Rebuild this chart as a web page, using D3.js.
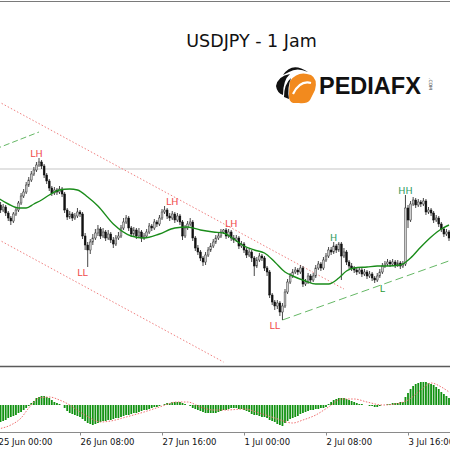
<!DOCTYPE html>
<html><head><meta charset="utf-8">
<script src="https://cdn.jsdelivr.net/npm/d3@7"></script>
<style>html,body{margin:0;padding:0;background:#fff;}svg{display:block}</style>
</head><body><svg id="c" width="450" height="450"></svg>
<script>
// ---------- DATA ----------
const title = "USDJPY - 1 Jam";
const tickIdx = [0, 32, 64, 96, 128, 160];
const tickLabels = ["25 Jun 00:00", "26 Jun 08:00", "27 Jun 16:00", "1 Jul 00:00", "2 Jul 08:00", "3 Jul 16:00"];
const firstOpen = 107.98;
const close = [107.95,107.90,107.93,107.87,107.82,107.79,107.86,107.90,107.97,108.04,
108.08,108.15,108.20,108.26,108.30,108.35,108.38,108.34,108.25,108.19,
108.12,108.07,108.10,108.08,108.11,108.06,107.90,107.83,107.86,107.82,
107.84,107.88,107.86,107.64,107.55,107.50,107.58,107.62,107.67,107.71,
107.64,107.68,107.62,107.66,107.60,107.56,107.62,107.64,107.72,107.78,
107.82,107.72,107.66,107.70,107.64,107.68,107.62,107.64,107.68,107.74,
107.72,107.78,107.76,107.82,107.88,107.90,107.84,107.82,107.86,107.80,
107.84,107.78,107.64,107.72,107.76,107.78,107.62,107.52,107.48,107.42,
107.38,107.45,107.50,107.54,107.58,107.62,107.64,107.68,107.70,107.64,
107.68,107.62,107.60,107.62,107.54,107.56,107.50,107.45,107.48,107.42,
107.34,107.40,107.44,107.42,107.32,107.28,107.05,106.98,106.94,106.97,
106.88,106.94,107.08,107.18,107.24,107.28,107.30,107.28,107.32,107.16,
107.18,107.24,107.20,107.24,107.32,107.36,107.32,107.40,107.44,107.50,
107.48,107.54,107.50,107.56,107.44,107.48,107.38,107.34,107.32,107.30,
107.28,107.30,107.26,107.28,107.24,107.26,107.22,107.20,107.24,107.28,
107.34,107.36,107.38,107.36,107.38,107.35,107.37,107.34,107.36,107.92,
107.80,107.96,108.00,107.95,107.98,107.96,107.99,107.88,107.90,107.87,
107.80,107.82,107.76,107.71,107.66,107.68,107.62];
const high = [108.01,107.98,107.96,107.95,107.89,107.84,107.88,107.93,107.99,108.07,
108.11,108.18,108.23,108.29,108.33,108.38,108.42,108.40,108.36,108.27,
108.21,108.14,108.13,108.12,108.14,108.13,108.08,107.92,107.89,107.88,
107.87,107.92,107.90,107.88,107.67,107.58,107.61,107.66,107.71,107.75,
107.73,107.72,107.70,107.70,107.68,107.63,107.65,107.68,107.75,107.82,
107.85,107.84,107.74,107.73,107.72,107.72,107.70,107.67,107.71,107.77,
107.76,107.81,107.80,107.85,107.91,107.94,107.92,107.87,107.89,107.88,
107.87,107.86,107.80,107.75,107.79,107.82,107.80,107.64,107.55,107.50,
107.44,107.48,107.53,107.57,107.61,107.65,107.67,107.71,107.71,107.72,
107.71,107.70,107.65,107.65,107.64,107.59,107.58,107.52,107.51,107.50,
107.44,107.43,107.47,107.46,107.44,107.34,107.30,107.07,107.00,107.00,
106.99,106.97,107.11,107.21,107.27,107.31,107.33,107.32,107.35,107.34,
107.21,107.27,107.26,107.27,107.35,107.39,107.38,107.43,107.47,107.53,
107.53,107.58,107.56,107.58,107.58,107.52,107.50,107.40,107.37,107.34,
107.32,107.33,107.32,107.31,107.30,107.29,107.28,107.24,107.27,107.31,
107.37,107.39,107.41,107.40,107.41,107.40,107.40,107.39,107.39,108.05,
107.95,107.99,108.03,108.02,108.01,108.00,108.02,108.01,107.93,107.92,
107.89,107.85,107.84,107.78,107.73,107.71,107.70];
const low = [107.92,107.87,107.88,107.84,107.79,107.75,107.77,107.84,107.88,107.95,
108.02,108.06,108.13,108.18,108.24,108.28,108.33,108.31,108.22,108.16,
108.09,108.04,108.05,108.05,108.06,108.03,107.87,107.80,107.81,107.79,
107.80,107.82,107.83,107.61,107.50,107.33,107.46,107.55,107.60,107.64,
107.61,107.62,107.59,107.60,107.57,107.52,107.54,107.60,107.62,107.70,
107.76,107.69,107.63,107.64,107.61,107.62,107.58,107.60,107.62,107.66,
107.69,107.70,107.73,107.74,107.80,107.86,107.81,107.79,107.80,107.77,
107.78,107.75,107.60,107.62,107.70,107.74,107.59,107.49,107.45,107.39,
107.34,107.35,107.43,107.48,107.52,107.56,107.60,107.62,107.66,107.61,
107.62,107.59,107.57,107.58,107.51,107.52,107.47,107.42,107.43,107.38,
107.24,107.32,107.38,107.39,107.29,107.24,107.02,106.95,106.90,106.91,
106.84,106.80,106.92,107.06,107.16,107.22,107.26,107.25,107.26,107.13,
107.14,107.16,107.17,107.18,107.22,107.30,107.29,107.30,107.38,107.42,
107.45,107.46,107.47,107.48,107.20,107.42,107.35,107.31,107.29,107.27,
107.25,107.26,107.23,107.24,107.21,107.22,107.19,107.17,107.18,107.22,
107.26,107.32,107.34,107.33,107.34,107.32,107.33,107.31,107.32,107.34,
107.72,107.78,107.94,107.92,107.93,107.93,107.94,107.85,107.86,107.84,
107.77,107.78,107.73,107.68,107.63,107.64,107.59];
// moving average read at sample bars
const maIdx = [0,4,8,11,14,17,20,24,28,31,35,39,45,52,57,63,69,74,79,84,88,92,96,100,104,108,112,115,120,124,129,133,136,139,144,148,152,157,161,165,169,173,176];
const maVal = [108.02,107.96,107.92,107.92,107.96,108.00,108.05,108.10,108.11,108.10,108.03,107.94,107.76,107.64,107.62,107.66,107.72,107.73,107.70,107.68,107.67,107.61,107.54,107.50,107.47,107.38,107.28,107.24,107.19,107.16,107.16,107.22,107.29,107.32,107.33,107.34,107.34,107.35,107.42,107.53,107.63,107.71,107.75];
// MACD histogram per bar
const macdHist = [-0.18,-0.17,-0.16,-0.15,-0.13,-0.12,-0.11,-0.10,-0.08,-0.07,
-0.05,-0.03,-0.01,0.02,0.04,0.07,0.08,0.09,0.09,0.08,
0.07,0.05,0.03,0.02,0.01,0.00,-0.03,-0.06,-0.08,-0.09,
-0.10,-0.11,-0.12,-0.14,-0.16,-0.18,-0.19,-0.20,-0.19,-0.18,
-0.17,-0.16,-0.16,-0.15,-0.15,-0.14,-0.13,-0.13,-0.12,-0.11,
-0.10,-0.10,-0.09,-0.08,-0.08,-0.07,-0.06,-0.05,-0.05,-0.04,
-0.03,-0.02,-0.02,-0.01,0.00,0.01,0.02,0.02,0.03,0.03,
0.03,0.03,0.02,0.01,0.00,-0.01,-0.03,-0.04,-0.05,-0.06,
-0.07,-0.08,-0.08,-0.08,-0.08,-0.08,-0.07,-0.06,-0.05,-0.05,
-0.04,-0.03,-0.03,-0.03,-0.04,-0.04,-0.05,-0.06,-0.07,-0.09,
-0.10,-0.10,-0.11,-0.12,-0.12,-0.13,-0.15,-0.16,-0.17,-0.19,
-0.20,-0.21,-0.18,-0.16,-0.14,-0.13,-0.12,-0.11,-0.09,-0.08,
-0.07,-0.06,-0.05,-0.05,-0.04,-0.04,-0.03,-0.03,-0.02,0.01,
0.03,0.05,0.06,0.07,0.07,0.07,0.06,0.05,0.04,0.03,
0.02,0.01,0.01,0.00,0.00,-0.01,-0.01,-0.02,-0.02,-0.01,
0.00,0.00,0.01,0.01,0.02,0.02,0.02,0.03,0.03,0.08,
0.12,0.16,0.19,0.21,0.22,0.23,0.23,0.23,0.22,0.21,
0.20,0.18,0.16,0.13,0.11,0.09,0.07];
// MACD signal line read at sample bars
const sigIdx = [0,5,9,12,16,20,24,28,32,36,40,44,50,57,63,70,74,79,84,89,96,102,108,115,119,124,129,134,139,144,150,155,160,165,169,173,176];
const sigVal = [-0.24,-0.20,-0.13,-0.03,0.07,0.08,0.05,0.00,-0.07,-0.13,-0.17,-0.16,-0.12,-0.07,-0.02,0.03,0.03,-0.02,-0.05,-0.05,-0.04,-0.08,-0.13,-0.18,-0.15,-0.10,-0.02,0.06,0.06,0.03,0.00,0.01,0.05,0.15,0.22,0.18,0.13];
// trend lines: [barIndex, price] end points
const channelUpper = [[-1, 109.00], [135, 107.11]];
const channelLower = [[-1, 107.62], [88, 106.38]];
const supportUpper = [[-1, 108.51], [16, 108.68]];
const supportLower = [[111, 106.80], [177, 107.40]];
const levelLine = 108.31;
// swing labels
const swingText = ["LH", "LL", "LH", "LH", "LL", "H", "L", "HH"];
const swingBar  = [15, 33, 68, 91, 108, 131, 150, 159];
const swingSide = ["top", "bottom", "top", "top", "bottom", "top", "bottom", "top"];

// ---------- DRAW ----------
const W = 450, H = 450;
const mainTop = 0, mainBottom = 366, subTop = 367, subBottom = 432;
const svg = d3.select("#c");
const x = d3.scaleLinear().domain([0, 176]).range([-2, -2 + 176 * 2.5625]);
const y = d3.scaleLinear().domain([106.34, 110.00]).range([mainBottom, 0]);
const ym = d3.scaleLinear().domain([-0.27, 0.39]).range([subBottom, subTop - 1]);

const defs = svg.append("defs");
defs.append("clipPath").attr("id", "mainClip").append("rect").attr("x", 0).attr("y", 0).attr("width", W).attr("height", mainBottom);
defs.append("clipPath").attr("id", "subClip").append("rect").attr("x", 0).attr("y", subTop).attr("width", W).attr("height", subBottom - subTop);

svg.append("rect").attr("width", W).attr("height", H).attr("fill", "#fff");

// top border
svg.append("line").attr("x1", 0).attr("x2", W).attr("y1", 1.5).attr("y2", 1.5).attr("stroke", "#7a7a7a").attr("stroke-width", 1.2);

// title
svg.append("text").attr("x", 251.5).attr("y", 47).attr("text-anchor", "middle")
  .attr("font-family", "DejaVu Sans, sans-serif").attr("font-size", 17.5).attr("fill", "#111").text(title);

// logo
const logo = svg.append("g");
logo.append("path").attr("d", "M290,81 Q298,70 311,75 Q318,79 315,90 L310,100 Q307,104 299,103 L293,103 Q288,101 289,93 Z").attr("fill", "#f28a1e");
logo.append("path").attr("d", "M283,75 Q292,61 308,72 Q297,67 289,72 Z").attr("fill", "#111");
logo.append("path").attr("d", "M276,86 Q278,76 290,74 Q283,80 283,95 Q277,93 276,86 Z").attr("fill", "#111");
logo.append("path").attr("d", "M284,97 Q284,84 291,78 Q287,88 289,99 Z").attr("fill", "#111");
logo.append("path").attr("d", "M293,94 Q300,80 311,83").attr("fill", "none").attr("stroke", "#fff").attr("stroke-width", 2.2);
logo.append("text").attr("x", 319).attr("y", 94).attr("font-family", "Liberation Sans, Arial, sans-serif")
  .attr("font-weight", "bold").attr("font-size", 23.5).attr("fill", "#111").text("PEDIAFX");
logo.append("text").attr("transform", "translate(429,78) rotate(90)").attr("font-family", "DejaVu Sans, sans-serif")
  .attr("font-size", 4.5).attr("fill", "#333").text(".COM");

// main panel
const main = svg.append("g").attr("clip-path", "url(#mainClip)");
main.append("line").attr("x1", 0).attr("x2", W).attr("y1", y(levelLine)).attr("y2", y(levelLine))
  .attr("stroke", "#d9d9d9").attr("stroke-width", 1.5);

const lineGen = d3.line().x(d => x(d[0])).y(d => y(d[1]));
main.append("path").attr("d", lineGen(channelUpper)).attr("fill", "none").attr("stroke", "#f08080").attr("stroke-width", 1).attr("stroke-dasharray", "1.5,2");
main.append("path").attr("d", lineGen(channelLower)).attr("fill", "none").attr("stroke", "#f08080").attr("stroke-width", 1).attr("stroke-dasharray", "1.5,2");
main.append("path").attr("d", lineGen(supportUpper)).attr("fill", "none").attr("stroke", "#66b866").attr("stroke-width", 1).attr("stroke-dasharray", "6,3");
main.append("path").attr("d", lineGen(supportLower)).attr("fill", "none").attr("stroke", "#66b866").attr("stroke-width", 1).attr("stroke-dasharray", "8,4");

const bars = close.map((c, i) => ({ i, o: i ? close[i - 1] : firstOpen, h: high[i], l: low[i], c }));
const bw = 1.8;
main.selectAll("line.wick").data(bars).join("line").attr("class", "wick")
  .attr("x1", d => x(d.i)).attr("x2", d => x(d.i)).attr("y1", d => y(d.h)).attr("y2", d => y(d.l))
  .attr("stroke", "#333").attr("stroke-width", 0.9);
main.selectAll("rect.body").data(bars).join("rect").attr("class", "body")
  .attr("x", d => x(d.i) - bw / 2).attr("width", bw)
  .attr("y", d => y(Math.max(d.o, d.c)))
  .attr("height", d => Math.max(1, Math.abs(y(d.o) - y(d.c))))
  .attr("fill", d => d.c >= d.o ? "#cfcfcf" : "#111")
  .attr("stroke", d => d.c >= d.o ? "#3a3a3a" : "#111").attr("stroke-width", 0.5);

const maPts = maIdx.map((d, k) => [d, maVal[k]]);
main.append("path").attr("d", d3.line().curve(d3.curveMonotoneX).x(d => x(d[0])).y(d => y(d[1]))(maPts))
  .attr("fill", "none").attr("stroke", "#1a8c1a").attr("stroke-width", 1.4);

// swing labels
swingText.forEach((t, k) => {
  const b = swingBar[k];
  const lo = Math.max(0, b - 3), hi = Math.min(close.length - 1, b + 3);
  let yy;
  if (swingSide[k] === "top") yy = y(d3.max(high.slice(lo, hi + 1))) - 1;
  else yy = y(d3.min(low.slice(lo, hi + 1))) + 9;
  const red = (t === "LH" || t === "LL");
  main.append("text").attr("x", x(b)).attr("y", yy).attr("text-anchor", "middle")
    .attr("font-family", "DejaVu Sans, sans-serif").attr("font-size", 9.5)
    .attr("fill", red ? "#f04a4a" : (t === "L" ? "#2a9a3a" : "#2e9a5e")).text(t);
});

// separator
svg.append("line").attr("x1", 0).attr("x2", W).attr("y1", 366.5).attr("y2", 366.5).attr("stroke", "#5a5a5a").attr("stroke-width", 1.5);

// MACD sub panel
const sub = svg.append("g").attr("clip-path", "url(#subClip)");
sub.selectAll("rect.h").data(macdHist).join("rect").attr("class", "h")
  .attr("x", (d, i) => x(i) - 0.9).attr("width", 1.8)
  .attr("y", d => Math.min(ym(d), ym(0))).attr("height", d => Math.abs(ym(d) - ym(0)))
  .attr("fill", "#129212");
const sigPts = sigIdx.map((d, k) => [d, sigVal[k]]);
sub.append("path").attr("d", d3.line().curve(d3.curveMonotoneX).x(d => x(d[0])).y(d => ym(d[1]))(sigPts))
  .attr("fill", "none").attr("stroke", "#f07070").attr("stroke-width", 1).attr("stroke-dasharray", "1.5,1.5");

// bottom axis
svg.append("line").attr("x1", 0).attr("x2", W).attr("y1", 432.5).attr("y2", 432.5).attr("stroke", "#8a8a8a").attr("stroke-width", 1);
const axis = d3.axisBottom(x).tickValues(tickIdx).tickFormat((d, i) => tickLabels[i]).tickSize(3).tickPadding(3);
const ag = svg.append("g").attr("transform", "translate(0,432.5)").call(axis);
ag.select(".domain").remove();
ag.selectAll(".tick line").attr("stroke", "#8a8a8a");
ag.selectAll(".tick text").attr("text-anchor", "start").attr("x", 0).attr("dy", "0.71em")
  .attr("font-family", "DejaVu Sans, sans-serif").attr("font-size", 8.5).attr("fill", "#111");
</script></body></html>
